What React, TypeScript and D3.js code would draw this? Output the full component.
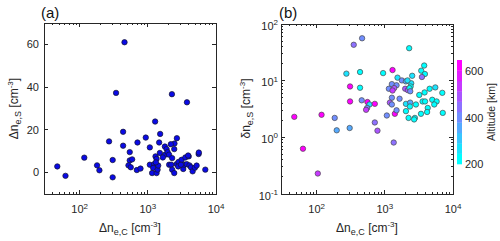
import { useEffect, useRef } from "react";
import * as d3 from "d3";

// panel (a): Δn_e,C vs Δn_e,S
const aX = [455, 342, 434, 270, 434, 705, 117, 543, 543, 589, 305, 47, 180, 195, 62, 305, 520, 562, 690, 781,
  1280, 1517, 933, 1070, 1466, 2668, 2460, 2176, 1778, 1884, 2440, 5560, 1501, 1795, 1949, 2050, 2273, 1660, 1297, 1343,
  1070, 1239, 1197, 1156, 1343, 1390, 1420, 1312, 2055, 2203, 2276, 2440, 2640, 2820, 3130, 3310, 3430, 3550, 3980, 3720,
  4080, 4290, 4540, 4900, 5200, 6970, 2790, 3060, 2256, 3750, 5600, 3900];
const aY = [61, 37.3, 19.1, 14.6, 12.6, 14.1, 7, 9.6, 5.7, 6.2, 5.9, 2.9, 3.4, 1.1, -1.5, -2.2, 3.4, 2.5, 1.2, 1.9,
  23.9, 18.1, 16.4, 11.8, 14.1, 16.1, 13.6, 13.3, 12.2, 11, 11, 8.7, 9.2, 8.4, 9.6, 8.4, 6.8, 7.1, 7.6, 6.4,
  3.7, 4, 2.2, -0.2, -0.2, 1.4, 3.3, 4.8, 3.7, 3.7, 1.4, -0.2, 4, 5, 6, 1.7, 3.7, 7.1, 7.6, 4,
  3.4, 2.5, 0.6, 2.3, 3.3, 1.4, 2.9, 3.7, 36.7, 32.9, 9.4, 8.0];

// panel (b): Δn_e,C vs δn_e,S, coloured by altitude
const bX = [464, 350, 273, 433, 309, 433, 309, 458, 556, 596, 550, 531, 713, 47, 118, 184, 197, 305, 713, 780,
  63, 104, 2276, 3780, 944, 1297, 3420, 3870, 2520, 1535, 1778, 2037, 2440, 3500, 1268, 1486, 1371, 1146, 1297, 1990,
  2178, 2390, 3200, 3830, 4540, 5500, 6970, 1645, 1268, 1186, 2040, 2357, 2860, 3580, 3890, 4260, 4960, 5750, 5310, 1070,
  1403, 1486, 2230, 2760, 3390, 4170, 7080, 1350, 2690, 2150, 2300, 2360, 1268, 2335, 2040];
const bY = [56, 43, 13.3, 14.2, 7.9, 7.5, 4.3, 4.5, 4.2, 3.8, 3.3, 3.06, 3.9, 2.3, 2.5, 2.2, 1.33, 1.46, 1.83, 1.31,
  0.63, 0.23, 37.4, 18.5, 13.6, 15.4, 15, 13.1, 12.2, 11.3, 10.1, 9.7, 9.0, 11.6, 8.7, 8.3, 7.4, 7.2, 6.7, 7.2,
  6.8, 7.9, 5.6, 6.2, 7.2, 7.6, 6.1, 4.8, 5, 4.1, 3.9, 4.1, 3.8, 4.3, 4.3, 3.3, 4.6, 4.3, 3.8, 2.43,
  2.6, 3.0, 2.2, 2.2, 2.6, 2.8, 2.7, 0.81, 2.07, 10.1, 7.4, 6.5, 3.8, 3.5, 2.9];
const bAlt = [380, 450, 250, 230, 630, 240, 620, 380, 620, 260, 400, 520, 640, 640, 630, 380, 360, 370, 440, 500,
  620, 520, 230, 230, 240, 630, 240, 230, 250, 250, 380, 360, 260, 450, 400, 380, 500, 380, 520, 480,
  470, 240, 230, 230, 240, 250, 230, 400, 420, 470, 260, 350, 230, 230, 240, 230, 230, 240, 240, 380,
  640, 380, 230, 240, 230, 230, 230, 440, 240, 250, 240, 380, 380, 240, 240];

const aYTicks = [0, 20, 40, 60];
const xExps = [2, 3, 4];
const bYExps = [-1, 0, 1, 2];
const altTicks = [200, 400, 600];
const altDomain = [200, 650];

export default function App() {
  const ref = useRef<SVGSVGElement>(null);

  useEffect(() => {
    if (!ref.current) return;
    const svg = d3.select(ref.current);
    svg.selectAll("*").remove();

    const font = "'Liberation Sans', Arial, sans-serif";
    const ink = "#262626";
    const major = 4;
    const minor = 2;

    const minorVals = (dom: number[]) => {
      const out: number[] = [];
      for (let e = Math.floor(Math.log10(dom[0])); e <= Math.ceil(Math.log10(dom[1])); e++) {
        for (let m = 2; m <= 9; m++) {
          const v = m * Math.pow(10, e);
          if (v > dom[0] && v < dom[1]) out.push(v);
        }
      }
      return out;
    };

    const powLabel = (g: any, x: number, y: number, e: number, anchor: string) => {
      const t = g.append("text").attr("x", x).attr("y", y).attr("text-anchor", anchor)
        .attr("font-family", font).attr("font-size", 11).attr("fill", ink);
      t.append("tspan").text("10");
      t.append("tspan").attr("dy", -4.5).attr("font-size", 8).text(String(e));
    };

    const axisLabel = (g: any, x: number, y: number, rotate: boolean, head: string, sub: string) => {
      const t = g.append("text").attr("text-anchor", "middle")
        .attr("font-family", font).attr("font-size", 12).attr("fill", ink)
        .attr("transform", rotate ? `translate(${x},${y}) rotate(-90)` : `translate(${x},${y})`);
      t.append("tspan").text(head);
      t.append("tspan").attr("dy", 3).attr("font-size", 9).text(sub);
      t.append("tspan").attr("dy", -3).text(" [cm");
      t.append("tspan").attr("dy", -5).attr("font-size", 8).text("-3");
      t.append("tspan").attr("dy", 5).text("]");
    };

    const box = (g: any, x: any, y: any, xMinor: number[], yMajor: number[], yMinor: number[]) => {
      const [x0, x1] = x.range();
      const [y0, y1] = y.range();
      const lines = g.append("g").attr("stroke", ink).attr("stroke-width", 1).attr("shape-rendering", "crispEdges");
      const xt = (v: number, len: number) => {
        lines.append("line").attr("x1", x(v)).attr("x2", x(v)).attr("y1", y0).attr("y2", y0 - len);
        lines.append("line").attr("x1", x(v)).attr("x2", x(v)).attr("y1", y1).attr("y2", y1 + len);
      };
      const yt = (v: number, len: number) => {
        lines.append("line").attr("y1", y(v)).attr("y2", y(v)).attr("x1", x0).attr("x2", x0 + len);
        lines.append("line").attr("y1", y(v)).attr("y2", y(v)).attr("x1", x1).attr("x2", x1 - len);
      };
      xExps.forEach(e => xt(Math.pow(10, e), major));
      xMinor.forEach(v => xt(v, minor));
      yMajor.forEach(v => yt(v, major));
      yMinor.forEach(v => yt(v, minor));
      lines.append("rect").attr("x", x0).attr("y", y1).attr("width", x1 - x0).attr("height", y0 - y1)
        .attr("fill", "none");
      xExps.forEach(e => powLabel(g, x(Math.pow(10, e)), y0 + 19, e, "middle"));
    };

    // ---- panel (a)
    const xA = d3.scaleLog().domain([30, 1e4]).range([44, 216]);
    const yA = d3.scaleLinear().domain([-10, 70]).range([194, 23]);
    const gA = svg.append("g");

    gA.selectAll("circle").data(aX).join("circle")
      .attr("cx", (d: number) => xA(d))
      .attr("cy", (_: number, i: number) => yA(aY[i]))
      .attr("r", 2.7)
      .attr("fill", "#0a0ae6")
      .attr("stroke", "#141428")
      .attr("stroke-width", 0.7);

    box(gA, xA, yA, minorVals(xA.domain()), aYTicks, []);
    aYTicks.forEach(v => {
      gA.append("text").attr("x", 39).attr("y", yA(v)).attr("dy", "0.35em").attr("text-anchor", "end")
        .attr("font-family", font).attr("font-size", 11).attr("fill", ink).text(v);
    });
    axisLabel(gA, 130, 232, false, "Δn", "e,C");
    axisLabel(gA, 18, 108.5, true, "Δn", "e,S");
    gA.append("text").attr("x", 41).attr("y", 18).attr("font-family", font).attr("font-size", 15)
      .attr("fill", "#111").text("(a)");

    // ---- panel (b)
    const xB = d3.scaleLog().domain([30, 1e4]).range([281, 453]);
    const yB = d3.scaleLog().domain([0.1, 100]).range([194, 24]);
    const nBands = 10;
    const bands = d3.range(nBands).map(i => {
      const t = i / (nBands - 1);
      return d3.rgb(255 * t, 255 * (1 - t), 255).formatHex();
    });
    const color = d3.scaleQuantize<string>().domain(altDomain).range(bands);
    const gB = svg.append("g");

    gB.selectAll("circle").data(bX).join("circle")
      .attr("cx", (d: number) => xB(d))
      .attr("cy", (_: number, i: number) => yB(bY[i]))
      .attr("r", 2.7)
      .attr("fill", (_: number, i: number) => color(bAlt[i]))
      .attr("stroke", "#4a4a4a")
      .attr("stroke-width", 0.7);

    box(gB, xB, yB, minorVals(xB.domain()), bYExps.map(e => Math.pow(10, e)), minorVals(yB.domain()));
    bYExps.forEach(e => powLabel(gB, 278, yB(Math.pow(10, e)) + 5.5, e, "end"));
    axisLabel(gB, 367, 232, false, "Δn", "e,C");
    axisLabel(gB, 250, 108.5, true, "δn", "e,S");
    gB.append("text").attr("x", 279).attr("y", 18).attr("font-family", font).attr("font-size", 15)
      .attr("fill", "#111").text("(b)");

    // colorbar
    const cY = d3.scaleLinear().domain(altDomain).range([164, 60]);
    const step = (altDomain[1] - altDomain[0]) / nBands;
    bands.forEach((c, i) => {
      const lo = altDomain[0] + i * step;
      gB.append("rect").attr("x", 457).attr("width", 5)
        .attr("y", cY(lo + step)).attr("height", cY(lo) - cY(lo + step) + 0.3)
        .attr("fill", c);
    });
    altTicks.forEach(v => {
      gB.append("text").attr("x", 465).attr("y", cY(v)).attr("dy", "0.35em")
        .attr("font-family", font).attr("font-size", 11).attr("fill", ink).text(v);
    });
    gB.append("text").attr("transform", `translate(495,112) rotate(-90)`).attr("text-anchor", "middle")
      .attr("font-family", font).attr("font-size", 10.5).attr("fill", ink).text("Altitude [km]");
  }, []);

  return (
    <div style={{ position: "absolute", left: 0, top: 0, background: "#fff" }}>
      <svg ref={ref} width={500} height={241} />
    </div>
  );
}
